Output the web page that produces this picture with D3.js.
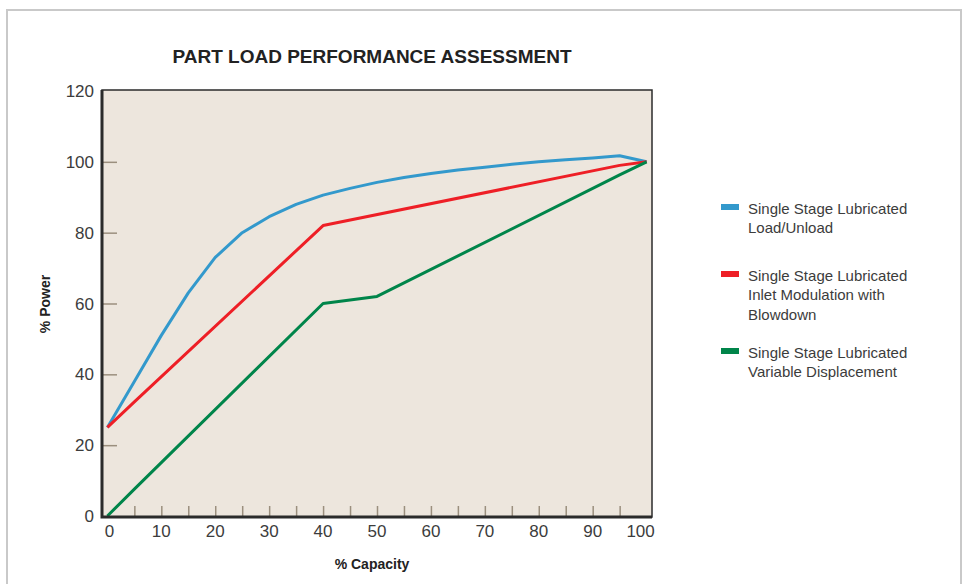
<!DOCTYPE html>
<html>
<head>
<meta charset="utf-8">
<script src="https://cdn.jsdelivr.net/npm/d3@7"></script>
<style>
  body { margin: 0; background: #fff; }
  svg { display: block; font-family: "Liberation Sans", Arial, sans-serif; }
</style>
</head>
<body>
<svg id="chart" width="964" height="584"></svg>
<script>
// Values (% capacity -> % power)
const blueCapacity = [0, 5, 10, 15, 20, 25, 30, 35, 40, 45, 50, 55, 60, 65, 70, 75, 80, 85, 90, 95, 100];
const bluePower    = [25, 38, 51, 63, 73, 80, 84.5, 88, 90.6, 92.5, 94.2, 95.6, 96.7, 97.7, 98.5, 99.3, 100, 100.6, 101.1, 101.7, 100];

const redCapacity = [0, 5, 40, 95, 100];
const redPower    = [25, 32.2, 82, 99, 100];

const greenCapacity = [0, 5, 40, 50, 95, 100];
const greenPower    = [0, 7.6, 60, 62, 96.3, 100];

const seriesNames = [
  ["Single Stage Lubricated", "Load/Unload"],
  ["Single Stage Lubricated", "Inlet Modulation with", "Blowdown"],
  ["Single Stage Lubricated", "Variable Displacement"]
];
const seriesColors = ["#3399cc", "#ee1f26", "#00854a"];

const xLabelTicks = [0, 10, 20, 30, 40, 50, 60, 70, 80, 90, 100];
const xMarkTicks = [5, 10, 15, 20, 25, 30, 35, 40, 45, 50, 55, 60, 65, 70, 75, 80, 85, 90, 95];
const yTicks = [0, 20, 40, 60, 80, 100, 120];

const svg = d3.select("#chart");

// outer frame (open at the bottom)
svg.append("path")
  .attr("d", "M7,584V10H961V584")
  .attr("fill", "none")
  .attr("stroke", "#c9c9c9")
  .attr("stroke-width", 2);

const plot = { left: 102, top: 90, right: 652, bottom: 517 };

const x = d3.scaleLinear().domain([-1, 101]).range([plot.left, plot.right]);
const y = d3.scaleLinear().domain([0, 120]).range([516, 91]);

// plot background
svg.append("rect")
  .attr("x", plot.left).attr("y", plot.top)
  .attr("width", plot.right - plot.left).attr("height", plot.bottom - plot.top)
  .attr("fill", "#ede6dd");

// y ticks (inward marks)
svg.append("g")
  .attr("transform", `translate(${plot.left},0)`)
  .call(d3.axisRight(y).tickValues(yTicks.filter(d => d > 0 && d < 120)).tickSize(15).tickFormat(""))
  .call(g => g.select(".domain").remove())
  .call(g => g.selectAll("line").attr("stroke", "#9b8f7e").attr("stroke-width", 1.5));

// x ticks (inward marks)
svg.append("g")
  .attr("transform", `translate(0,${plot.bottom})`)
  .call(d3.axisTop(x).tickValues(xMarkTicks).tickSize(11).tickFormat(""))
  .call(g => g.select(".domain").remove())
  .call(g => g.selectAll("line").attr("stroke", "#9b8f7e").attr("stroke-width", 1.5));

// tick labels
svg.append("g")
  .selectAll("text")
  .data(yTicks)
  .join("text")
  .attr("x", 94)
  .attr("y", d => y(d) + 6)
  .attr("text-anchor", "end")
  .attr("font-size", 17)
  .attr("fill", "#3c3c3c")
  .text(d => d);

svg.append("g")
  .selectAll("text")
  .data(xLabelTicks)
  .join("text")
  .attr("x", d => x(d) + (d === 0 ? 2 : d === 100 ? -6 : 0))
  .attr("y", 537)
  .attr("text-anchor", "middle")
  .attr("font-size", 17)
  .attr("fill", "#3c3c3c")
  .text(d => d);

// series lines
const line = d3.line().x(d => x(d[0])).y(d => y(d[1]));
const series = [
  d3.zip(blueCapacity, bluePower),
  d3.zip(redCapacity, redPower),
  d3.zip(greenCapacity, greenPower)
];
svg.append("g")
  .selectAll("path")
  .data(series)
  .join("path")
  .attr("d", line)
  .attr("fill", "none")
  .attr("stroke", (d, i) => seriesColors[i])
  .attr("stroke-width", 3)
  .attr("stroke-linejoin", "round");

// plot frame
svg.append("rect")
  .attr("x", plot.left).attr("y", plot.top)
  .attr("width", plot.right - plot.left).attr("height", plot.bottom - plot.top)
  .attr("fill", "none")
  .attr("stroke", "#2b2b2b")
  .attr("stroke-width", 1.5);
svg.append("path")
  .attr("d", `M${plot.left},${plot.top}V${plot.bottom}H${plot.right}`)
  .attr("fill", "none")
  .attr("stroke", "#2b2b2b")
  .attr("stroke-width", 3);

// title and axis titles
svg.append("text")
  .attr("x", 372).attr("y", 63)
  .attr("text-anchor", "middle")
  .attr("font-size", 19)
  .attr("font-weight", "bold")
  .attr("fill", "#222")
  .text("PART LOAD PERFORMANCE ASSESSMENT");

svg.append("text")
  .attr("transform", "translate(50,304) rotate(-90)")
  .attr("text-anchor", "middle")
  .attr("font-size", 14)
  .attr("font-weight", "bold")
  .attr("fill", "#222")
  .text("% Power");

svg.append("text")
  .attr("x", 372).attr("y", 569)
  .attr("text-anchor", "middle")
  .attr("font-size", 14)
  .attr("font-weight", "bold")
  .attr("fill", "#222")
  .text("% Capacity");

// legend
const legendTops = [214, 281, 358];
const legend = svg.append("g")
  .selectAll("g")
  .data(seriesNames)
  .join("g")
  .attr("transform", (d, i) => `translate(721,${legendTops[i]})`);

legend.append("rect")
  .attr("x", 0).attr("y", -10)
  .attr("width", 18).attr("height", 6)
  .attr("fill", (d, i) => seriesColors[i]);

legend.append("text")
  .attr("x", 27)
  .attr("font-size", 15)
  .attr("fill", "#3c3c3c")
  .selectAll("tspan")
  .data(d => d)
  .join("tspan")
  .attr("x", 27)
  .attr("dy", (d, i) => i === 0 ? 0 : 19.3)
  .text(d => d);
</script>
</body>
</html>
